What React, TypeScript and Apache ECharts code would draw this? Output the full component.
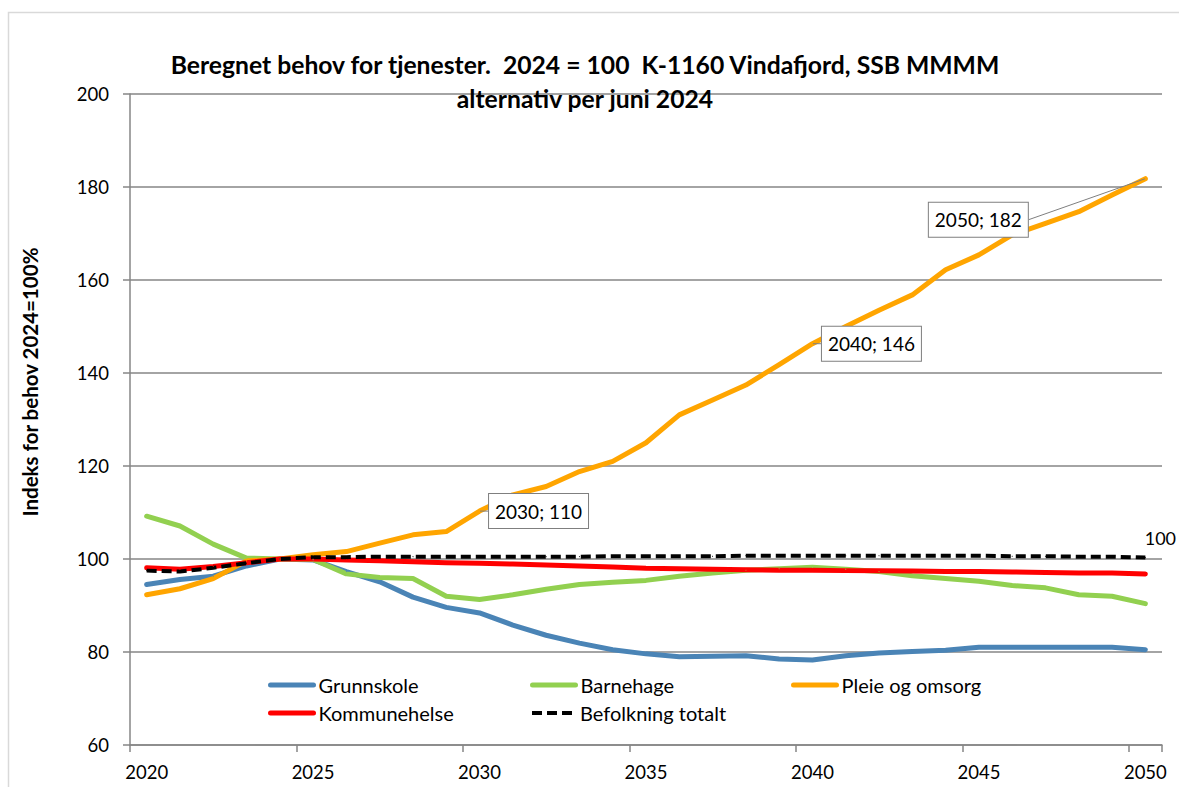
import React, { useEffect, useRef } from 'react';
import * as echarts from 'echarts';

const FONT = 'Lato';

const years = [
  '2020', '2021', '2022', '2023', '2024', '2025', '2026', '2027', '2028', '2029',
  '2030', '2031', '2032', '2033', '2034', '2035', '2036', '2037', '2038', '2039',
  '2040', '2041', '2042', '2043', '2044', '2045', '2046', '2047', '2048', '2049', '2050',
];

const grunnskole = [
  94.5, 95.6, 96.3, 98.5, 100, 99.8, 97.3, 95.1, 91.8, 89.6,
  88.4, 85.8, 83.6, 81.9, 80.5, 79.6, 79.0, 79.1, 79.2, 78.5,
  78.3, 79.2, 79.8, 80.1, 80.4, 81.0, 81.0, 81.0, 81.0, 81.0, 80.5,
];

const barnehage = [
  109.2, 107.1, 103.2, 100.2, 100, 99.9, 96.8, 96.0, 95.8, 92.0,
  91.3, 92.3, 93.5, 94.5, 95.0, 95.4, 96.3, 97.0, 97.6, 97.9,
  98.2, 97.8, 97.3, 96.4, 95.8, 95.2, 94.3, 93.8, 92.3, 92.0, 90.4,
];

const pleieOgOmsorg = [
  92.3, 93.6, 95.8, 99.6, 100, 100.9, 101.6, 103.4, 105.2, 105.9,
  110.3, 113.8, 115.6, 118.8, 121.0, 125.0, 131.0, 134.2, 137.4, 141.8,
  146.3, 150.0, 153.5, 156.8, 162.2, 165.4, 169.7, 172.2, 174.7, 178.3, 181.8,
];

const kommunehelse = [
  98.1, 97.8, 98.4, 99.2, 100, 100.0, 99.8, 99.6, 99.4, 99.2,
  99.1, 98.9, 98.7, 98.5, 98.3, 98.0, 97.9, 97.8, 97.7, 97.6,
  97.6, 97.5, 97.5, 97.4, 97.3, 97.3, 97.2, 97.1, 97.0, 97.0, 96.8,
];

const befolkning = [
  97.5, 97.3, 98.1, 99.1, 100, 100.4, 100.4, 100.5, 100.5, 100.5,
  100.5, 100.5, 100.5, 100.5, 100.6, 100.6, 100.6, 100.6, 100.7, 100.7,
  100.7, 100.7, 100.7, 100.7, 100.7, 100.7, 100.6, 100.6, 100.5, 100.5, 100.3,
];

const annotatedYears = ['2030', '2040', '2050'];

const seriesNames = ['Grunnskole', 'Barnehage', 'Pleie og omsorg', 'Kommunehelse', 'Befolkning totalt'];
const seriesColors = ['#4A84B6', '#92D050', '#FFA500', '#FF0000', '#000000'];

const titleLines = [
  'Beregnet behov for tjenester.  2024 = 100  K-1160 Vindafjord, SSB MMMM',
  'alternativ per juni 2024',
];
const yAxisTitle = 'Indeks for behov 2024=100%';

function baseSeries(idx: number, data: any[], extra: any = {}) {
  const color = seriesColors[idx];
  return {
    name: seriesNames[idx],
    type: 'line',
    data,
    symbol: 'circle',
    symbolSize: 1,
    showSymbol: true,
    showAllSymbol: true,
    lineStyle: { color, width: 5, cap: 'round', join: 'round' },
    itemStyle: { color },
    emphasis: { disabled: true },
    silent: true,
    ...extra,
  };
}

export default function App() {
  const ref = useRef<HTMLDivElement>(null);

  useEffect(() => {
    const chart = echarts.init(ref.current!, null, { renderer: 'svg' });

    const lastIdx = years.length - 1;

    const pleieData = years.map((y, i) =>
      annotatedYears.includes(y) ? { value: pleieOgOmsorg[i], label: { show: true } } : pleieOgOmsorg[i]
    );

    const befolkningData = years.map((y, i) =>
      i === lastIdx
        ? {
            value: befolkning[i],
            label: {
              show: true,
              position: 'top',
              offset: [15, -5],
              formatter: (p: any) => `${Math.round(p.value)}`,
              fontSize: 18,
              fontFamily: FONT,
              color: '#000',
            },
          }
        : befolkning[i]
    );

    const legendBase = {
      orient: 'horizontal',
      padding: 0,
      itemGap: 0,
      itemWidth: 43,
      itemHeight: 14,
      selectedMode: false,
      itemStyle: { opacity: 0 },
      lineStyle: { width: 5, cap: 'round' },
      textStyle: { fontSize: 20, fontFamily: FONT, color: '#000' },
    };

    const option: any = {
      animation: false,
      backgroundColor: '#fff',
      textStyle: { fontFamily: FONT },
      grid: { left: 130, right: 17, top: 94, bottom: 42, containLabel: false },
      xAxis: {
        type: 'category',
        data: years,
        boundaryGap: true,
        axisLine: { show: true, lineStyle: { color: '#868686', width: 1.5 } },
        axisTick: { show: true, interval: 4, length: 7, inside: false, lineStyle: { color: '#868686', width: 1.5 } },
        axisLabel: { interval: 4, fontSize: 18.5, fontFamily: FONT, color: '#000', margin: 17 },
        splitLine: { show: false },
      },
      yAxis: {
        type: 'value',
        min: 60,
        max: 200,
        interval: 20,
        axisLine: { show: true, lineStyle: { color: '#868686', width: 1.5 } },
        axisTick: { show: true, length: 7, inside: false, lineStyle: { color: '#868686', width: 1.5 } },
        axisLabel: { fontSize: 18.5, fontFamily: FONT, color: '#000', margin: 21 },
        splitLine: { show: true, lineStyle: { color: '#868686', width: 1.5 } },
      },
      legend: [
        { ...legendBase, data: [seriesNames[0]], left: 268, top: 675 },
        { ...legendBase, data: [seriesNames[1]], left: 530, top: 675 },
        { ...legendBase, data: [seriesNames[2]], left: 791, top: 675 },
        { ...legendBase, data: [seriesNames[3]], left: 268, top: 703 },
        { ...legendBase, data: [seriesNames[4]], left: 530, top: 703, lineStyle: { width: 4 } },
      ],
      graphic: [
        {
          type: 'rect',
          z: -10,
          shape: { x: 8.5, y: 12.5, width: 1300, height: 900 },
          style: { fill: 'none', stroke: '#d9d9d9', lineWidth: 1.5 },
          silent: true,
        },
        {
          type: 'text',
          z: 100,
          x: 585,
          y: 81,
          style: {
            text: titleLines.join('\n'),
            font: `bold 24.7px ${FONT}`,
            lineHeight: 34,
            fill: '#000',
            textAlign: 'center',
            textVerticalAlign: 'middle',
          },
          silent: true,
        },
        {
          type: 'text',
          z: 100,
          x: 30,
          y: 382,
          rotation: Math.PI / 2,
          style: {
            text: yAxisTitle,
            font: `bold 20.5px ${FONT}`,
            fill: '#000',
            textAlign: 'center',
            textVerticalAlign: 'middle',
          },
          silent: true,
        },
      ],
      series: [
        baseSeries(0, grunnskole),
        baseSeries(1, barnehage),
        baseSeries(2, pleieData, {
          label: {
            show: false,
            position: 'right',
            distance: 9,
            formatter: (p: any) => `${p.name}; ${Math.round(p.value)}`,
            backgroundColor: '#fff',
            borderColor: '#7f7f7f',
            borderWidth: 1,
            padding: [8, 6, 7, 6],
            fontSize: 19,
            fontFamily: FONT,
            color: '#000',
          },
          labelLine: { show: true, lineStyle: { color: '#7f7f7f', width: 1 } },
          labelLayout: (p: any) => (p.dataIndex === lastIdx ? { dx: -226, dy: 41 } : {}),
        }),
        baseSeries(3, kommunehelse),
        baseSeries(4, befolkningData, {
          lineStyle: { color: '#000', width: 4, type: [10, 5] },
        }),
      ],
    };

    chart.setOption(option);
    return () => chart.dispose();
  }, []);

  return (
    <div style={{ position: 'absolute', left: 0, top: 0, width: 1179, height: 787, overflow: 'hidden' }}>
      <div ref={ref} style={{ width: 1179, height: 787 }} />
    </div>
  );
}
